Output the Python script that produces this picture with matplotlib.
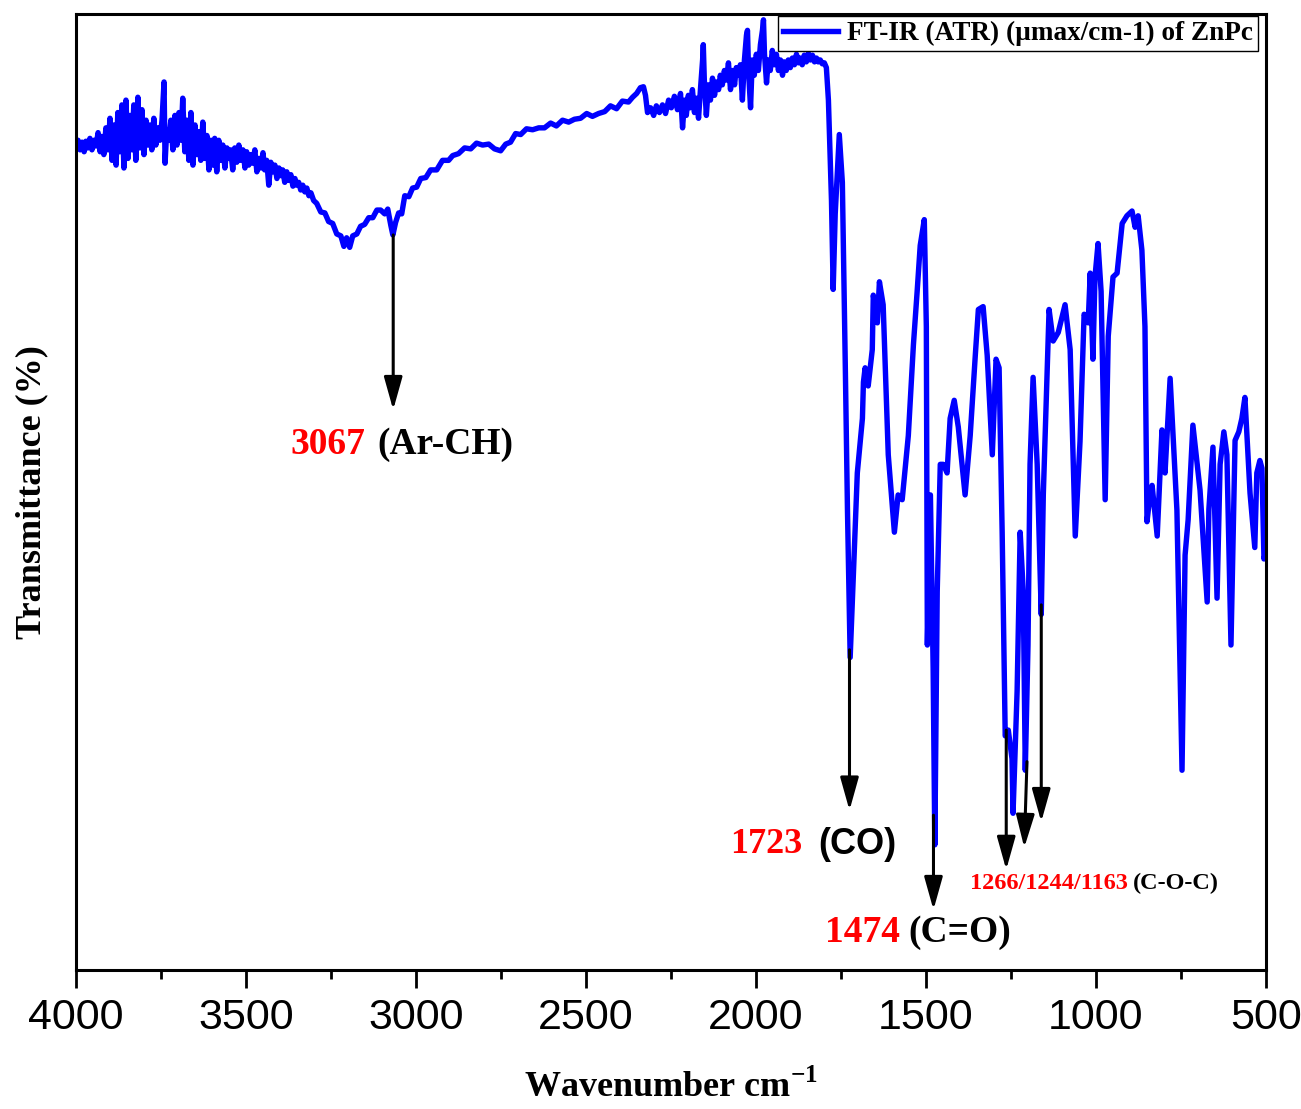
import numpy as np  # 数值计算
import matplotlib  # 绘图库

matplotlib.use('Agg')  # 无界面后端
import matplotlib.pyplot as plt  # pyplot接口
from matplotlib.patches import ArrowStyle  # 箭头样式

# ---------------- 数据 ----------------
# 4000-3300 区域（噪声较大）
wn_high = [4000, 3994, 3988, 3982, 3976, 3971, 3965, 3959, 3953, 3947,
           3941, 3935, 3929, 3924, 3918, 3912, 3906, 3900, 3894, 3888,
           3882, 3877, 3871, 3865, 3859, 3853, 3847, 3841, 3835, 3830,
           3824, 3818, 3812, 3806, 3800, 3794, 3788, 3783, 3777, 3771,
           3765, 3759, 3753, 3747, 3741, 3738, 3733, 3727, 3721, 3715,
           3709, 3703, 3697, 3691, 3686, 3680, 3674, 3668, 3662, 3656,
           3650, 3644, 3639, 3633, 3627, 3621, 3615, 3609, 3603, 3597,
           3592, 3586, 3580, 3574, 3568, 3562, 3556, 3550, 3545, 3539,
           3533, 3527, 3521, 3515, 3509, 3503, 3498, 3492, 3486, 3480,
           3474, 3468, 3462, 3456, 3450, 3445, 3439, 3433, 3427, 3421,
           3415, 3409, 3403, 3398, 3392, 3386, 3380, 3374, 3368, 3362,
           3356, 3351, 3345, 3339, 3333, 3327, 3321, 3315, 3309, 3301]
tr_high = [86.1, 86.8, 85.8, 86.6, 85.6, 86.7, 86.0, 87.0, 85.8, 86.8,
           86.2, 87.6, 85.6, 87.2, 85.3, 88.1, 85.8, 89.1, 84.7, 88.4,
           84.2, 89.7, 85.6, 90.5, 83.9, 91.0, 84.9, 89.4, 85.8, 90.5,
           84.7, 91.3, 86.0, 90.0, 85.3, 88.9, 86.3, 88.4, 85.8, 89.1,
           86.3, 88.1, 86.8, 88.9, 92.9, 84.4, 87.9, 86.8, 88.9, 85.8,
           89.4, 86.3, 89.7, 86.8, 91.2, 85.6, 88.9, 84.7, 89.7, 84.2,
           88.4, 85.3, 87.7, 84.7, 88.7, 84.9, 87.3, 83.7, 86.8, 84.2,
           87.0, 83.5, 86.8, 84.7, 86.3, 83.9, 86.0, 84.9, 85.8, 83.7,
           86.0, 84.5, 86.3, 84.7, 85.8, 83.9, 85.6, 84.2, 85.3, 84.4,
           85.8, 83.5, 84.9, 83.9, 85.5, 83.7, 84.7, 82.1, 84.5, 83.5,
           84.2, 82.8, 83.9, 83.1, 83.7, 82.4, 83.5, 82.6, 83.2, 82.0,
           82.8, 82.1, 82.4, 81.6, 82.1, 81.4, 81.8, 81.0, 81.3, 80.5]

# 3300-2900 区域（Ar-CH 宽谷）
wn_ch = [3292, 3280, 3268, 3257, 3245, 3233, 3221, 3212, 3204, 3195,
         3186, 3174, 3163, 3151, 3139, 3127, 3115, 3104, 3092, 3083,
         3074, 3068, 3060, 3051, 3042, 3033, 3021, 3010, 2998, 2986,
         2971, 2957, 2939, 2922, 2904]
tr_ch = [80.2, 79.3, 79.2, 78.3, 78.1, 77.0, 76.8, 75.7, 76.6, 75.6,
         76.8, 77.0, 77.8, 78.0, 78.7, 78.7, 79.5, 79.5, 79.1, 79.6,
         77.9, 76.9, 78.2, 79.2, 79.1, 81.0, 80.9, 81.8, 81.9, 82.8,
         82.9, 83.7, 83.7, 84.7, 84.7]

# 2900-2320 区域（缓慢上升）
wn_mid = [2892, 2875, 2857, 2839, 2822, 2804, 2786, 2769, 2751, 2736,
          2722, 2707, 2692, 2675, 2657, 2639, 2622, 2604, 2587, 2569,
          2551, 2534, 2516, 2498, 2481, 2463, 2445, 2428, 2410, 2393,
          2375, 2363, 2351, 2340, 2331, 2325, 2319]
tr_mid = [85.2, 85.4, 86.0, 85.9, 86.5, 86.3, 86.4, 85.9, 85.7, 86.4,
          86.6, 87.5, 87.4, 88.0, 87.9, 88.1, 88.1, 88.6, 88.3, 88.9,
          88.7, 89.0, 89.1, 89.6, 89.3, 89.6, 89.8, 90.4, 90.1, 90.9,
          90.8, 91.3, 91.7, 92.3, 92.4, 91.5, 89.7]

# 2310-1780 区域（尖峰噪声）
wn_spiky = [2310, 2301, 2293, 2284, 2275, 2266, 2257, 2249, 2240, 2231,
            2222, 2216, 2210, 2205, 2199, 2193, 2187, 2181, 2175, 2169,
            2163, 2157, 2155, 2152, 2146, 2140, 2134, 2128, 2122, 2116,
            2110, 2105, 2099, 2093, 2087, 2081, 2075, 2069, 2063, 2058,
            2052, 2046, 2040, 2034, 2028, 2025, 2022, 2016, 2011, 2005,
            1999, 1993, 1987, 1981, 1978, 1975, 1969, 1964, 1958, 1952,
            1946, 1940, 1934, 1928, 1922, 1917, 1911, 1905, 1899, 1893,
            1887, 1881, 1875, 1870, 1864, 1858, 1852, 1846, 1840, 1834,
            1828, 1822, 1817, 1811, 1805, 1799, 1793, 1787, 1778]
tr_spiky = [90.2, 89.4, 90.4, 89.7, 90.5, 89.6, 91.0, 90.2, 91.4, 90.0,
            91.7, 88.1, 91.0, 89.4, 91.5, 90.2, 92.1, 89.7, 91.2, 89.1,
            92.3, 95.2, 96.8, 93.1, 89.4, 92.6, 91.0, 93.3, 91.5, 92.9,
            92.1, 93.6, 92.6, 94.1, 93.1, 94.9, 92.1, 94.1, 92.6, 94.4,
            93.6, 94.7, 91.0, 95.2, 97.8, 98.3, 94.1, 90.2, 95.2, 93.6,
            95.8, 94.1, 96.8, 98.3, 99.4, 95.8, 92.8, 95.2, 94.1, 96.2,
            94.7, 95.8, 94.1, 95.2, 93.6, 95.0, 94.1, 95.2, 94.4, 95.4,
            94.7, 95.8, 94.9, 95.4, 94.7, 95.7, 95.0, 95.9, 95.2, 95.7,
            95.0, 95.4, 95.0, 95.2, 94.8, 94.9, 94.4, 91.0, 80.5]

# 1780-500 指纹区
wn_finger = [1773, 1767, 1755, 1746, 1737, 1731, 1723, 1714, 1702, 1687,
             1684, 1679, 1670, 1658, 1655, 1643, 1637, 1626, 1611, 1593,
             1582, 1570, 1552, 1537, 1526, 1517, 1505, 1499, 1496, 1487,
             1479, 1474, 1467, 1458, 1449, 1438, 1429, 1417, 1405, 1385,
             1370, 1355, 1346, 1332, 1320, 1305, 1294, 1285, 1276, 1267,
             1258, 1247, 1244, 1232, 1223, 1214, 1208, 1200, 1194, 1185,
             1173, 1161, 1155, 1144, 1138, 1126, 1111, 1091, 1076, 1061,
             1047, 1035, 1023, 1017, 1009, 1003, 994, 985, 973, 964,
             950, 938, 923, 909, 894, 885, 876, 865, 856, 850,
             841, 835, 820, 806, 797, 782, 762, 747, 738, 729,
             715, 694, 673, 668, 656, 644, 635, 624, 615, 603,
             591, 580, 571, 562, 553, 547, 533, 527, 518, 512,
             506, 500]
tr_finger = [71.2, 79.1, 87.4, 82.4, 62.4, 48.2, 32.7, 41.1, 52.0, 57.7,
             61.5, 63.0, 61.1, 64.9, 70.6, 67.7, 72.0, 69.6, 53.9, 45.8,
             49.7, 49.2, 55.9, 65.4, 71.0, 75.8, 78.5, 67.3, 34.0, 49.7,
             31.6, 13.1, 39.6, 52.9, 52.9, 52.0, 57.7, 59.6, 56.8, 49.7,
             55.9, 64.3, 69.1, 69.4, 64.3, 53.9, 63.9, 63.0, 45.8, 24.5,
             25.1, 22.1, 16.4, 29.2, 45.8, 39.6, 20.9, 34.0, 52.9, 62.0,
             52.9, 37.2, 49.7, 62.4, 69.1, 65.8, 66.7, 69.6, 64.9, 45.4,
             55.3, 68.6, 67.7, 72.9, 63.9, 72.5, 76.0, 71.0, 49.2, 66.3,
             72.5, 72.9, 78.1, 78.9, 79.4, 77.7, 78.9, 75.3, 67.3, 46.9,
             49.7, 50.7, 45.4, 56.5, 52.0, 61.9, 48.1, 20.9, 43.4, 47.1,
             57.0, 50.2, 38.5, 48.2, 54.7, 38.9, 52.9, 56.3, 53.9, 34.0,
             55.4, 56.3, 57.7, 59.9, 53.9, 49.9, 44.2, 52.0, 53.3, 52.5,
             43.0, 43.9]

# 坐标轴刻度
x_ticks = [4000, 3500, 3000, 2500, 2000, 1500, 1000, 500]
x_tick_labels = ['4000', '3500', '3000', '2500', '2000', '1500', '1000', '500']

# 峰位标注文字
peak_numbers = ['3067', '1723', '1474', '1266/1244/1163']
peak_groups = ['(Ar-CH)', '(CO)', '(C=O)', '(C-O-C)']

SERIF = 'Liberation Serif'  # 类似 Times New Roman
SANS = ['Liberation Sans Narrow', 'Liberation Sans']  # 类似 Arial


def draw_arrow(ax, start, tip):
    """画一个黑色实心箭头"""
    ax.annotate('', xy=tip, xytext=start,
                arrowprops=dict(arrowstyle=ArrowStyle('-|>', head_length=1.0, head_width=0.28),
                                mutation_scale=20, color='k', lw=2.2,
                                shrinkA=0, shrinkB=0))


def plot_spectrum(save_path='out.png'):
    plt.rcParams['font.family'] = SERIF
    plt.rcParams['mathtext.fontset'] = 'custom'
    plt.rcParams['mathtext.rm'] = SERIF
    plt.rcParams['mathtext.bf'] = SERIF + ':bold'

    fig = plt.figure(figsize=(13.01, 11.09), dpi=100)  # 画布
    ax = fig.add_axes([0.0584, 0.1253, 0.9147, 0.862])  # 坐标区

    wn = np.concatenate([wn_high, wn_ch, wn_mid, wn_spiky, wn_finger])
    tr = np.concatenate([tr_high, tr_ch, tr_mid, tr_spiky, tr_finger])
    ax.plot(wn, tr, color='#0000ff', lw=3.9, solid_joinstyle='round',
            label='FT-IR (ATR) (\u00b5max/cm-1) of ZnPc')  # 光谱曲线

    ax.set_xlim(4000, 500)
    ax.set_ylim(0, 100)
    ax.set_yticks([])
    ax.set_xticks(x_ticks, labels=x_tick_labels, fontfamily=SANS, fontsize=31)
    ax.set_xticks(np.arange(750, 4000, 500), minor=True)
    ax.tick_params(axis='x', which='major', length=13, width=2, pad=7, direction='out')
    ax.tick_params(axis='x', which='minor', length=6.5, width=2, direction='out')
    for sp in ax.spines.values():
        sp.set_linewidth(2.2)

    ax.set_xlabel(r'Wavenumber cm$^{\mathbf{-1}}$', fontsize=26, fontweight='bold', labelpad=23)
    ax.set_ylabel('Transmittance (%)', fontsize=26, fontweight='bold', labelpad=20)

    # 箭头（起点在谱线上，终点指向标注）
    draw_arrow(ax, (3067, 76.9), (3067, 58.6))
    draw_arrow(ax, (1725, 33.5), (1725, 16.7))
    draw_arrow(ax, (1478, 16.2), (1478, 6.3))
    draw_arrow(ax, (1264, 25.1), (1264, 10.5))
    draw_arrow(ax, (1203, 21.8), (1211, 12.8))
    draw_arrow(ax, (1161, 38.2), (1161, 15.5))

    # 标注文字：红色波数 + 黑色基团
    text_specs = [  # (数字右端x, 基团左端x, y, 字号, 基团字体)
        (3148, 3115, 55.0, 27, SERIF),
        (1864, 1817, 13.1, 26, SANS),
        (1576, 1552, 3.9, 27, SERIF),
        (906, 891, 9.1, 17.5, SERIF),
    ]
    for num, grp, (xr, xl, y, fs, fam) in zip(peak_numbers, peak_groups, text_specs):
        ax.text(xr, y, num, color='#ff0000', fontsize=fs, fontweight='bold',
                ha='right', va='center', family=SERIF)
        ax.text(xl, y, grp, color='k', fontsize=fs, fontweight='bold',
                ha='left', va='center', family=fam)

    leg = ax.legend(loc='upper right', bbox_to_anchor=(0.9933, 0.998), borderaxespad=0,
                    prop={'family': SERIF, 'weight': 'bold', 'size': 19.6},
                    handlelength=2.0, handletextpad=0.35, borderpad=0.18,
                    fancybox=False, framealpha=1, edgecolor='k')
    leg.get_frame().set_linewidth(1.0)

    fig.savefig(save_path, dpi=100)
    plt.close(fig)


if __name__ == '__main__':
    plot_spectrum()
